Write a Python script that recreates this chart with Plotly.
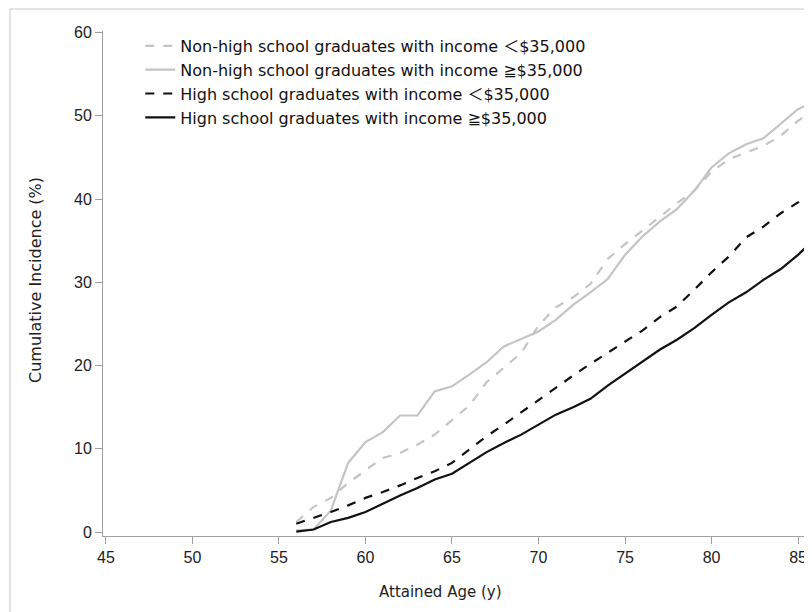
import plotly.graph_objects as go

ages = [56, 57, 58, 59, 60, 61, 62, 63, 64, 65, 66, 67, 68, 69, 70, 71, 72, 73, 74, 75,
        76, 77, 78, 79, 80, 81, 82, 83, 84, 85, 85.4]

nh_low = [1.2, 3.0, 4.1, 5.9, 7.4, 8.9, 9.5, 10.5, 11.7, 13.5, 15.2, 18.0, 19.8, 21.5, 24.8,
          27.0, 28.2, 29.8, 32.8, 34.6, 36.2, 37.9, 39.5, 41.0, 43.3, 44.8, 45.6, 46.4, 47.6,
          49.4, 50.0]
nh_high = [0.2, 0.3, 2.6, 8.3, 10.8, 12.0, 14.0, 14.0, 16.9, 17.5, 18.9, 20.4, 22.3, 23.2,
           24.1, 25.5, 27.3, 28.8, 30.4, 33.3, 35.5, 37.3, 38.8, 41.0, 43.8, 45.5, 46.6, 47.3,
           49.0, 50.8, 51.2]
hs_low = [1.0, 1.7, 2.4, 3.2, 4.1, 4.8, 5.6, 6.5, 7.3, 8.3, 9.9, 11.5, 12.9, 14.4, 15.9,
          17.3, 18.8, 20.2, 21.5, 22.9, 24.2, 25.8, 27.1, 29.1, 31.2, 33.1, 35.4, 36.7, 38.3,
          39.6, 40.2]
hs_high = [0.05, 0.3, 1.2, 1.7, 2.4, 3.4, 4.4, 5.3, 6.3, 7.0, 8.3, 9.6, 10.7, 11.7, 12.9,
           14.1, 15.0, 16.0, 17.6, 19.0, 20.4, 21.9, 23.1, 24.5, 26.1, 27.6, 28.8, 30.3, 31.6,
           33.3, 34.1]

labels = [
    "Non-high school graduates with income ＜$35,000",
    "Non-high school graduates with income ≧$35,000",
    "High school graduates with income ＜$35,000",
    "Hign school graduates with income ≧$35,000",
]
x_ticks = [45, 50, 55, 60, 65, 70, 75, 80, 85]
y_ticks = [0, 10, 20, 30, 40, 50, 60]
x_title = "Attained Age (y)"
y_title = "Cumulative Incidence (%)"

series = [
    (nh_low, "#c4c4c4", "dash"),
    (nh_high, "#c4c4c4", "solid"),
    (hs_low, "#111111", "dash"),
    (hs_high, "#111111", "solid"),
]

fig = go.Figure()
for (vals, col, dash), name in zip(series, labels):
    fig.add_trace(go.Scatter(x=ages, y=vals, mode="lines", name=name,
                             line=dict(color=col, width=2.2, dash=dash)))

# page body has an 8px margin, so the figure is sized to end at the window edge
W, H = 804, 604
L, R, T, B = 95, 6, 23, 76
pw, ph = W - L - R, H - T - B

tick_font = dict(family="Liberation Sans, Arial, sans-serif", size=16, color="#222")
title_font = dict(family="DejaVu Sans, Noto Sans CJK JP", color="#222")

fig.update_layout(
    width=W, height=H,
    margin=dict(l=L, r=R, t=T, b=B),
    plot_bgcolor="white", paper_bgcolor="white",
    font=dict(family="Liberation Sans, Arial, sans-serif", size=15, color="#222"),
    showlegend=True,
    legend=dict(x=0.053, y=1.004, xanchor="left", yanchor="top",
                bgcolor="rgba(0,0,0,0)",
                font=dict(family="DejaVu Sans, Noto Sans CJK JP", size=16, color="#111"),
                tracegroupgap=0, itemwidth=30),
    xaxis=dict(range=[44.83, 85.46], tickvals=x_ticks, showgrid=False, zeroline=False,
               showline=True, linecolor="#a0a0a0", linewidth=1, tickfont=tick_font,
               ticks="outside", ticklen=7, tickcolor="#a0a0a0"),
    yaxis=dict(range=[-0.48, 60.2], tickvals=y_ticks, showgrid=False, zeroline=False,
               showline=True, linecolor="#a0a0a0", linewidth=1, tickfont=tick_font,
               ticks="outside", ticklen=7, tickcolor="#a0a0a0"),
    annotations=[
        dict(text=x_title, xref="paper", yref="paper", x=(440 - 103) / pw,
             y=-(592 - 536) / ph, xanchor="center", yanchor="middle", showarrow=False,
             font=dict(size=15, **title_font)),
        dict(text=y_title, xref="paper", yref="paper", x=-(103 - 35) / pw,
             y=(536 - 280) / ph, xanchor="center", yanchor="middle", showarrow=False,
             textangle=-90, font=dict(size=16, **title_font)),
    ],
)

# light frame around the figure (top and left edges visible)
fig.add_shape(type="rect", xref="paper", yref="paper",
              x0=(2 - L) / pw, x1=(W + 20 - L) / pw,
              y0=-(H + 20 - T - ph) / ph, y1=(ph + T - 1) / ph,
              line=dict(color="#c8c8c8", width=1), layer="below")

fig.write_html("out.html")
